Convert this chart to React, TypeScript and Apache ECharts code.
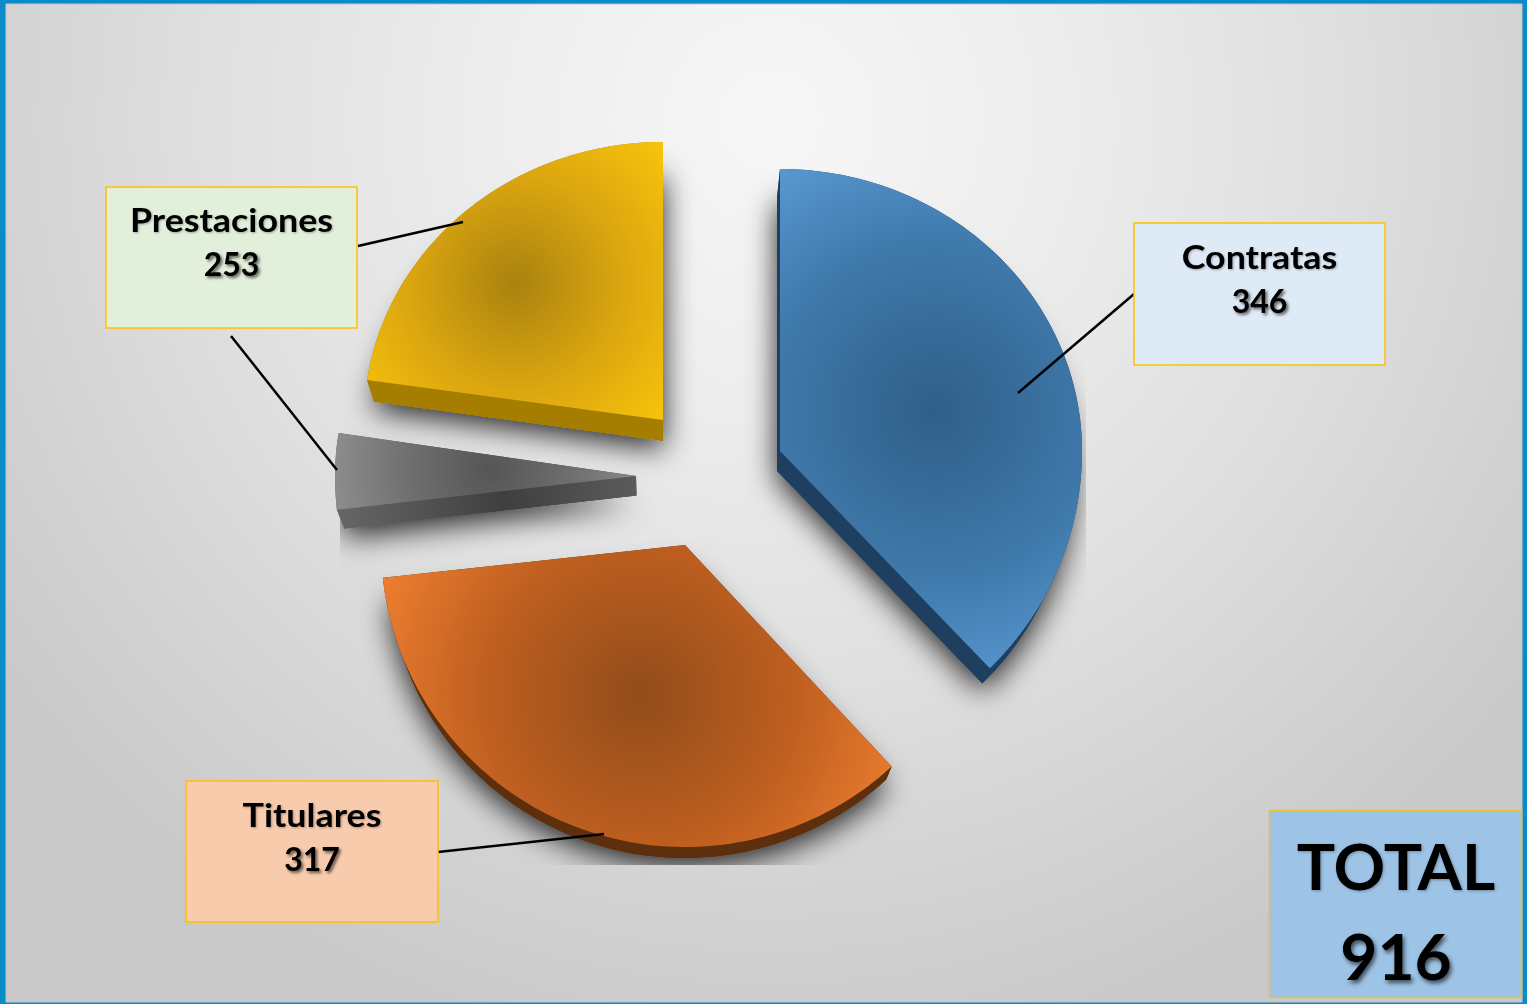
import React, { useEffect, useRef } from "react";
import * as echarts from "echarts";

const sliceNames = ["Contratas", "Titulares", "Prestaciones (resto)", "Prestaciones"];
const sliceValues = [346, 317, 40, 213];
const labelNames = ["Contratas", "Titulares", "Prestaciones"];
const labelValues = [346, 317, 253];
const totalLabel = "TOTAL";
const totalValue = 916;

const W = 1527;
const H = 1004;
const FONT = "Lato, 'Open Sans', sans-serif";

const sliceStyle = [
  { apex: [780, 451], rot0: 0, rot1: 0, rx: 302, ryTop: 282, glow: [935, 410], r: 300, mid: "#3f79ab", dark: "#2f5f88", light: "#5b9bd5", side: "#1e3f5f" },
  { apex: [685, 545], rot0: 1.2, rot1: 3.2, rx: 304, ryTop: 279, glow: [640, 695], r: 285, mid: "#bf5f20", dark: "#924c1a", light: "#ef7f30", side: "#5e2f0d" },
  { apex: [636, 476], rot0: 3, rot1: 2.6, rx: 301, ryTop: 279, glow: [490, 470], r: 155, mid: "#707070", dark: "#555555", light: "#8c8c8c", side: "#505050" },
  { apex: [663, 420], rot0: 2, rot1: 0, rx: 299, ryTop: 278, glow: [515, 283], r: 195, mid: "#dba60f", dark: "#a9820f", light: "#f6c20b", side: "#a57e00" },
];

const boxes = [
  { x: 1134, y: 223, w: 251, h: 142, fill: "#deeaf6", t1: 256, t2: 300, line: [[1134, 294, 1018, 393]] },
  { x: 186, y: 781, w: 252, h: 141, fill: "#f8cbad", t1: 814, t2: 858, line: [[438, 852, 604, 834]] },
  { x: 106, y: 187, w: 251, h: 141, fill: "#e2efda", t1: 219, t2: 263, line: [[358, 246, 463, 222], [231, 336, 337, 470]] },
];

const RY_BOTTOM = 302;
const VANISH = [660, 1320];
const DEPTH = 0.023;
const SHADOW_CLIP = { x: 340, y: 148, width: 746, height: 717 };

const extrude = (p: number[]) => [
  p[0] + (VANISH[0] - p[0]) * DEPTH,
  p[1] + (VANISH[1] - p[1]) * DEPTH,
];

function renderSlice(params: any, api: any) {
  const i = params.dataIndex;
  const total = sliceValues.reduce((a, b) => a + b, 0);
  const before = sliceValues.slice(0, i).reduce((a, b) => a + b, 0);
  const s = sliceStyle[i];
  const a0 = (before / total) * 360 + s.rot0;
  const a1 = ((before + api.value(0)) / total) * 360 + s.rot1;
  const arc: number[][] = [];
  const n = Math.max(4, Math.ceil((a1 - a0) / 1.5));
  for (let k = 0; k <= n; k++) {
    const t = ((a0 + ((a1 - a0) * k) / n) * Math.PI) / 180;
    const c = Math.cos(t);
    arc.push([s.apex[0] + s.rx * Math.sin(t), s.apex[1] - (c > 0 ? s.ryTop : RY_BOTTOM) * c]);
  }
  const top = [s.apex, ...arc];
  const low = top.map(extrude);
  const arcLow = arc.map(extrude);
  const lowA = extrude(s.apex);
  const sideFill: any =
    i === 2
      ? {
          type: "linear", x: 340, y: 0, x2: 640, y2: 0, global: true,
          colorStops: [
            { offset: 0, color: "#666666" },
            { offset: 0.55, color: "#3f3f3f" },
            { offset: 1, color: "#5c5c5c" },
          ],
        }
      : s.side;
  const poly = (points: number[][], style: any, extra: any = {}) => ({
    type: "polygon", shape: { points }, style, silent: true, ...extra,
  });
  return {
    type: "group",
    children: [
      poly(
        low,
        {
          fill: s.side,
          shadowBlur: 30,
          shadowColor: "rgba(0,0,0,0.85)",
          shadowOffsetX: 0,
          shadowOffsetY: 8,
        },
        { clipPath: { type: "rect", shape: SHADOW_CLIP } }
      ),
      poly(low, { fill: sideFill }),
      poly([...arc, ...[...arcLow].reverse()], { fill: sideFill }),
      poly([s.apex, arc[0], arcLow[0], lowA], { fill: sideFill }),
      poly([s.apex, arc[arc.length - 1], arcLow[arcLow.length - 1], lowA], { fill: sideFill }),
      poly(top, {
        fill: {
          type: "radial", x: s.glow[0], y: s.glow[1], r: s.r, global: true,
          colorStops: [
            { offset: 0, color: s.dark },
            { offset: 0.55, color: s.mid },
            { offset: 1, color: s.light },
          ],
        },
      }),
    ],
  };
}

function buildGraphics() {
  const g: any[] = [
    { type: "rect", z: -10, shape: { x: 0, y: 0, width: W, height: H }, style: { fill: "#0a8ccb" }, silent: true },
    {
      type: "rect", z: -9, shape: { x: 6, y: 4, width: 1516, height: 998 }, silent: true,
      style: {
        stroke: "#c9c2c2", lineWidth: 1,
        fill: {
          type: "radial", x: 770, y: 120, r: 950, global: true,
          colorStops: [
            { offset: 0, color: "#f7f7f7" },
            { offset: 0.3, color: "#ededed" },
            { offset: 0.6, color: "#dfdfdf" },
            { offset: 0.85, color: "#d1d1d1" },
            { offset: 1, color: "#c9c9c9" },
          ],
        },
      },
    },
  ];
  boxes.forEach((b, i) => {
    b.line.forEach((l) =>
      g.push({
        type: "line", z: 20, silent: true,
        shape: { x1: l[0], y1: l[1], x2: l[2], y2: l[3] },
        style: { stroke: "#000000", lineWidth: 2.5 },
      })
    );
    g.push({
      type: "rect", z: 21, silent: true,
      shape: { x: b.x, y: b.y, width: b.w, height: b.h },
      style: { fill: b.fill, stroke: "#ffc000", lineWidth: 1.5 },
    });
    const cx = b.x + b.w / 2;
    g.push({
      type: "text", z: 22, silent: true, x: cx, y: b.t1, scaleX: 1.12,
      style: {
        text: labelNames[i], x: 0, y: 0, fill: "#000", font: `700 32px ${FONT}`, textAlign: "center", textVerticalAlign: "middle",
        textShadowBlur: 2, textShadowColor: "rgba(0,0,0,0.3)", textShadowOffsetX: 1, textShadowOffsetY: 1,
      },
    });
    g.push({
      type: "text", z: 22, silent: true,
      style: {
        text: String(labelValues[i]), x: cx, y: b.t2, fill: "#000", font: `700 32px ${FONT}`,
        textAlign: "center", textVerticalAlign: "middle",
        textShadowBlur: 3, textShadowColor: "rgba(0,0,0,0.6)", textShadowOffsetX: 2, textShadowOffsetY: 2,
      },
    });
  });
  g.push({
    type: "rect", z: 21, silent: true,
    shape: { x: 1269.5, y: 810.5, width: 252, height: 187 },
    style: { fill: "#9dc3e6", stroke: "#f0c030", lineWidth: 1.5 },
  });
  g.push({
    type: "text", z: 22, silent: true,
    style: {
      text: totalLabel, x: 1396, y: 865, fill: "#000", font: `700 64px ${FONT}`, textAlign: "center", textVerticalAlign: "middle",
      textShadowBlur: 3, textShadowColor: "rgba(0,0,0,0.3)", textShadowOffsetX: 1, textShadowOffsetY: 1,
    },
  });
  g.push({
    type: "text", z: 22, silent: true,
    style: {
      text: String(totalValue), x: 1396, y: 955, fill: "#000", font: `700 64px ${FONT}`,
      textAlign: "center", textVerticalAlign: "middle",
      textShadowBlur: 4, textShadowColor: "rgba(0,0,0,0.6)", textShadowOffsetX: 2, textShadowOffsetY: 3,
    },
  });
  return g;
}

export default function App() {
  const ref = useRef<HTMLDivElement>(null);
  useEffect(() => {
    if (!ref.current) return;
    const chart = echarts.init(ref.current, undefined, { renderer: "svg" });
    chart.setOption({
      animation: false,
      graphic: { elements: buildGraphics() },
      series: [
        {
          type: "custom",
          coordinateSystem: "none",
          silent: true,
          z: 5,
          renderItem: renderSlice,
          data: sliceValues.map((v, i) => ({ name: sliceNames[i], value: [v] })),
        },
      ],
    });
    return () => chart.dispose();
  }, []);
  return <div ref={ref} style={{ position: "absolute", left: 0, top: 0, width: W, height: H }} />;
}
